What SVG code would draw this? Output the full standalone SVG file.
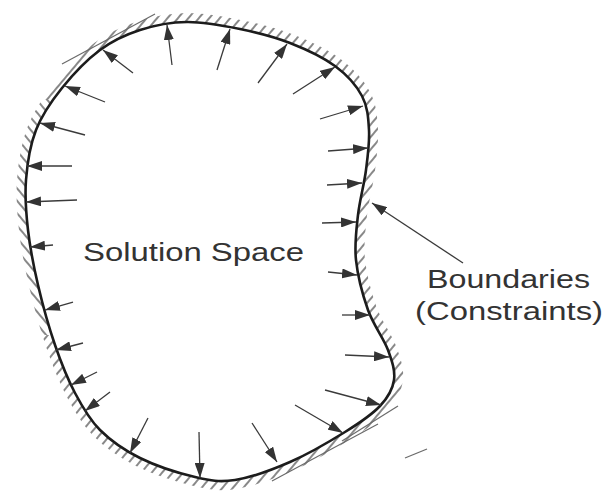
<svg xmlns="http://www.w3.org/2000/svg" width="604" height="493" viewBox="0 0 604 493">
  <style>
    .lbl { font-family: "Liberation Sans", Arial, sans-serif; font-size: 25px; fill: #333; }
    .arr { stroke: #3a3a3a; stroke-width: 1.3; fill: none; marker-end: url(#head); }
    .tan { stroke: #6a6a6a; stroke-width: 1.2; fill: none; }
  </style>
  <defs>
    <marker id="head" viewBox="0 0 15 10" refX="15" refY="5" markerWidth="15" markerHeight="10" markerUnits="userSpaceOnUse" orient="auto">
      <path d="M0,0 L15,5 L0,10 Z" fill="#333"/>
    </marker>
    <pattern id="hatchA" width="8" height="8" patternUnits="userSpaceOnUse" patternTransform="rotate(40)">
      <line x1="4" y1="-1" x2="4" y2="9" stroke="#555" stroke-width="1.4"/>
    </pattern>
    <pattern id="hatchB" width="8" height="8" patternUnits="userSpaceOnUse" patternTransform="rotate(-40)">
      <line x1="4" y1="-1" x2="4" y2="9" stroke="#555" stroke-width="1.4"/>
    </pattern>
    <path id="outline" d="M187,22 C203.7,21.8 222.8,25.5 240,29 C257.2,32.5 274.2,36.8 290,43 C305.8,49.2 323,57.2 335,66 C347,74.8 356.3,85.3 362,96 C367.7,106.7 368.3,117.7 369,130 C369.7,142.3 367.8,155.8 366,170 C364.2,184.2 359.7,200 358,215 C356.3,230 354.3,244.2 356,260 C357.7,275.8 362.7,295 368,310 C373.3,325 383.7,338.3 388,350 C392.3,361.7 395.3,370.7 394,380 C392.7,389.3 388.2,397.3 380,406 C371.8,414.7 360,422.7 345,432 C330,441.3 308.3,454 290,462 C271.7,470 250.8,477.5 235,480 C219.2,482.5 210.8,480.7 195,477 C179.2,473.3 155.8,465.8 140,458 C124.2,450.2 110.8,440.8 100,430 C89.2,419.2 82.5,407.2 75,393 C67.5,378.8 61.2,363 55,345 C48.8,327 42.5,304.2 38,285 C33.5,265.8 30,247.5 28,230 C26,212.5 24.7,196.7 26,180 C27.3,163.3 30,145.3 36,130 C42,114.7 51.3,101.3 62,88 C72.7,74.7 87,59.7 100,50 C113,40.3 125.5,34.7 140,30 C154.5,25.3 170.3,22.2 187,22 Z"/>
    <clipPath id="leftSide"><rect x="0" y="100" width="60" height="235"/></clipPath>
    <clipPath id="restSide"><path d="M0,0 H604 V493 H0 Z M0,100 V335 H60 V100 Z" clip-rule="evenodd"/></clipPath>
  </defs>
  <rect width="604" height="493" fill="#fff"/>

  <g id="boundary">
    <use href="#outline" fill="none" stroke="url(#hatchA)" stroke-width="18" clip-path="url(#restSide)"/>
    <use href="#outline" fill="none" stroke="url(#hatchB)" stroke-width="18" clip-path="url(#leftSide)"/>
    <use href="#outline" fill="#fff" stroke="none"/>
    <line class="tan" x1="62" y1="64" x2="155" y2="14"/>
    <line class="tan" x1="272" y1="481" x2="378" y2="424"/>
    <line class="tan" x1="342" y1="441" x2="398" y2="406"/>
    <line class="tan" x1="405" y1="458" x2="427" y2="449"/>
    <use href="#outline" fill="none" stroke="#1c1c1c" stroke-width="2.6"/>
  </g>

  <g id="connectors">
    <line class="arr" x1="172" y1="65" x2="167" y2="25"/>
    <line class="arr" x1="217" y1="70" x2="230" y2="29"/>
    <line class="arr" x1="258" y1="83" x2="287" y2="44"/>
    <line class="arr" x1="133" y1="73" x2="103" y2="50"/>
    <line class="arr" x1="105" y1="102" x2="65" y2="86"/>
    <line class="arr" x1="85" y1="135" x2="40" y2="123"/>
    <line class="arr" x1="72" y1="166" x2="27" y2="166"/>
    <line class="arr" x1="77" y1="200" x2="26" y2="202"/>
    <line class="arr" x1="53" y1="245" x2="30" y2="247"/>
    <line class="arr" x1="293" y1="94" x2="335" y2="67"/>
    <line class="arr" x1="320" y1="119" x2="363" y2="106"/>
    <line class="arr" x1="328" y1="151" x2="368" y2="148"/>
    <line class="arr" x1="327" y1="185" x2="362" y2="183"/>
    <line class="arr" x1="322" y1="223" x2="356" y2="222"/>
    <line class="arr" x1="328" y1="272" x2="357" y2="275"/>
    <line class="arr" x1="342" y1="315" x2="370" y2="315"/>
    <line class="arr" x1="345" y1="355" x2="389" y2="357"/>
    <line class="arr" x1="325" y1="390" x2="381" y2="405"/>
    <line class="arr" x1="295" y1="405" x2="343" y2="433"/>
    <line class="arr" x1="73" y1="302" x2="45" y2="310"/>
    <line class="arr" x1="83" y1="343" x2="56" y2="350"/>
    <line class="arr" x1="97" y1="372" x2="71" y2="385"/>
    <line class="arr" x1="110" y1="392" x2="85" y2="411"/>
    <line class="arr" x1="148" y1="418" x2="130" y2="453"/>
    <line class="arr" x1="199" y1="432" x2="200" y2="478"/>
    <line class="arr" x1="252" y1="423" x2="277" y2="462"/>
    <line class="arr" x1="463" y1="263" x2="372" y2="203"/>
  </g>

  <g id="solution-space">
    <text class="lbl" x="83" y="261" textLength="221" lengthAdjust="spacingAndGlyphs">Solution Space</text>
  </g>
  <g id="boundaries-label">
    <text class="lbl" x="427" y="288" textLength="163" lengthAdjust="spacingAndGlyphs">Boundaries</text>
    <text class="lbl" x="415" y="320" textLength="188" lengthAdjust="spacingAndGlyphs">(Constraints)</text>
  </g>
</svg>
